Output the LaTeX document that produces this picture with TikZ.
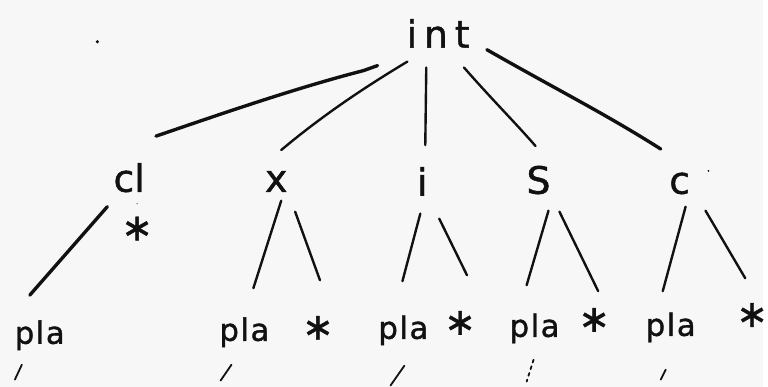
\documentclass[tikz,border=0pt]{standalone}
\usepackage{fontspec}
\setmainfont{DejaVu Sans}[FakeBold=1.2]
\newfontfamily\starfont{DejaVu Sans}[FakeBold=1]
\definecolor{paper}{HTML}{F7F7F7}
\definecolor{ink}{HTML}{111111}
\tikzset{
 edge/.style={draw=ink, line width=2.4pt, line cap=round},
 heavyedge/.style={edge, line width=3.4pt},
 stub/.style={edge, line width=1.8pt},
 rootlbl/.style={anchor=base, inner sep=0pt, text=ink, font=\fontsize{38}{40}\selectfont\addfontfeatures{LetterSpace=18}},
 midlbl/.style={anchor=base, inner sep=0pt, text=ink, font=\fontsize{38}{40}\selectfont},
 leaflbl/.style={anchor=base, inner sep=0pt, text=ink, font=\fontsize{31}{34}\selectfont\addfontfeatures{LetterSpace=5}},
 starlbl/.style={inner sep=0pt, text=ink, font=\starfont\fontsize{38}{40}\selectfont},
}
\begin{document}
\begin{tikzpicture}[x=1pt,y=-1pt]
\path[fill=paper] (0,0) rectangle (768,389);
% labels
\node[rootlbl] (int) at (441,48) {int};
\node[midlbl] (cl) at (130,193) {cl};
\node[midlbl] (x) at (278,193) {x};
\node[midlbl] (i) at (425,197) {i};
\node[midlbl] (S) at (542,195) {S};
\node[midlbl] (c) at (684,195) {c};
\node[leaflbl] (p1) at (40,346) {pla};
\node[leaflbl] (p2) at (246,343) {pla};
\node[leaflbl] (p3) at (406,341) {pla};
\node[leaflbl] (p4) at (538,339) {pla};
\node[leaflbl] (p5) at (675,338) {pla};
\node[starlbl] (s1) at (138,230) {∗};
\node[starlbl] (s2) at (320,330) {∗};
\node[starlbl] (s3) at (463,325) {∗};
\node[starlbl] (s4) at (598,322) {∗};
\node[starlbl] (s5) at (757,317) {∗};
% stray dots
\fill[ink] (98,42) circle (1.8);
\fill[ink] (713,172) circle (1);
\fill[ink!60] (138,205) circle (0.8);
% edge endpoints
\coordinate (a1) at (380,66); \coordinate (b1) at (157,137);
\coordinate (a2) at (410,62); \coordinate (b2) at (283,151);
\coordinate (a3) at (429,68); \coordinate (b3) at (428,146);
\coordinate (a4) at (467,68); \coordinate (b4) at (539,147);
\coordinate (a5) at (490,50); \coordinate (b5) at (665,150);
\coordinate (c1a) at (108,208); \coordinate (c1b) at (30,297);
\coordinate (c2a) at (283,202); \coordinate (c2b) at (255,290);
\coordinate (c2c) at (297,213); \coordinate (c2d) at (322,282);
\coordinate (c3a) at (423,215); \coordinate (c3b) at (405,283);
\coordinate (c3c) at (442,220); \coordinate (c3d) at (470,277);
\coordinate (c4a) at (552,212); \coordinate (c4b) at (530,287);
\coordinate (c4c) at (563,213); \coordinate (c4d) at (602,293);
\coordinate (c5a) at (690,208); \coordinate (c5b) at (667,293);
\coordinate (c5c) at (710,212); \coordinate (c5d) at (750,280);
\coordinate (t1a) at (22,367); \coordinate (t1b) at (15,382);
\coordinate (t2a) at (233,367); \coordinate (t2b) at (222,383);
\coordinate (t3a) at (407,368); \coordinate (t3b) at (393,388);
\coordinate (t4a) at (537,362); \coordinate (t4b) at (530,384);
\coordinate (t5a) at (670,372); \coordinate (t5b) at (665,382);
% root edges
\draw[heavyedge] (a1) -- (366,71) .. controls (300,88) and (230,112) .. (b1);
\draw[edge] (a2) .. controls (360,92) and (320,120) .. (b2);
\draw[edge] (a3) -- (b3);
\draw[edge] (a4) .. controls (495,100) and (520,125) .. (b4);
\draw[heavyedge] (a5) .. controls (560,90) and (610,115) .. (b5);
% child edges
\draw[heavyedge] (c1a) -- (c1b);
\draw[edge] (c2a) -- (c2b); \draw[edge] (c2c) -- (c2d);
\draw[edge] (c3a) -- (c3b); \draw[edge] (c3c) -- (c3d);
\draw[edge] (c4a) -- (c4b); \draw[edge] (c4c) -- (c4d);
\draw[edge] (c5a) -- (c5b); \draw[edge] (c5c) -- (c5d);
% stubs below leaves
\draw[stub] (t1a) -- (t1b);
\draw[stub] (t2a) -- (t2b);
\draw[stub] (t3a) -- (t3b);
\draw[stub, dash pattern=on 3pt off 4pt] (t4a) -- (t4b);
\draw[stub] (t5a) -- (t5b);
\end{tikzpicture}
\end{document}
